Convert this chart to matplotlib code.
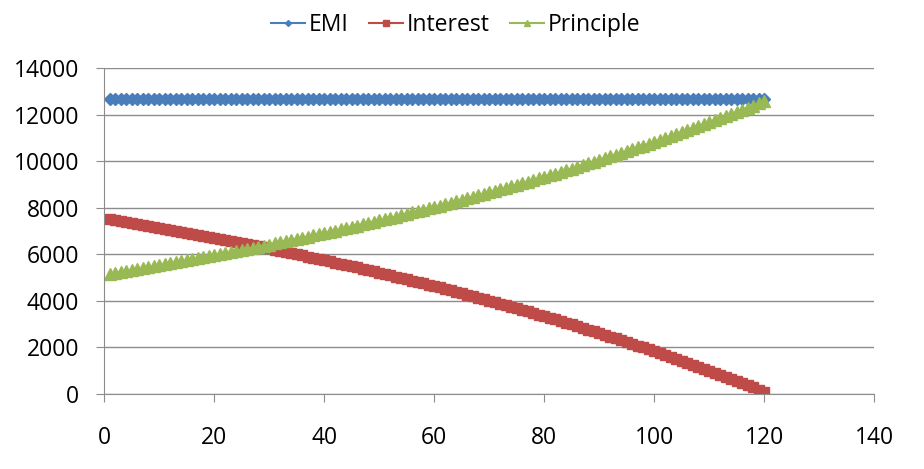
import numpy as np
import matplotlib.pyplot as plt

# monthly EMI schedule values
months = list(range(1, 121))

emi = [12668] * 120

interest = [
    7500, 7461, 7422, 7383, 7343, 7303, 7263, 7222, 7182, 7140,
    7099, 7057, 7015, 6973, 6930, 6887, 6844, 6800, 6756, 6712,
    6667, 6622, 6577, 6531, 6485, 6438, 6392, 6345, 6297, 6249,
    6201, 6153, 6104, 6055, 6005, 5955, 5905, 5854, 5803, 5752,
    5700, 5647, 5595, 5542, 5488, 5434, 5380, 5325, 5270, 5215,
    5159, 5103, 5046, 4989, 4931, 4873, 4815, 4756, 4696, 4637,
    4576, 4516, 4455, 4393, 4331, 4268, 4205, 4142, 4078, 4014,
    3949, 3883, 3817, 3751, 3684, 3617, 3549, 3480, 3411, 3342,
    3272, 3202, 3131, 3059, 2987, 2914, 2841, 2768, 2693, 2619,
    2543, 2467, 2391, 2314, 2236, 2158, 2079, 2000, 1920, 1839,
    1758, 1676, 1593, 1510, 1427, 1342, 1257, 1172, 1086, 999,
    911, 823, 734, 645, 555, 464, 372, 280, 187, 94,
]

principle = [
    5168, 5207, 5246, 5285, 5325, 5365, 5405, 5446, 5486, 5528,
    5569, 5611, 5653, 5695, 5738, 5781, 5824, 5868, 5912, 5956,
    6001, 6046, 6091, 6137, 6183, 6230, 6276, 6323, 6371, 6419,
    6467, 6515, 6564, 6613, 6663, 6713, 6763, 6814, 6865, 6916,
    6968, 7021, 7073, 7126, 7180, 7234, 7288, 7343, 7398, 7453,
    7509, 7565, 7622, 7679, 7737, 7795, 7853, 7912, 7972, 8031,
    8092, 8152, 8213, 8275, 8337, 8400, 8463, 8526, 8590, 8654,
    8719, 8785, 8851, 8917, 8984, 9051, 9119, 9188, 9257, 9326,
    9396, 9466, 9537, 9609, 9681, 9754, 9827, 9900, 9975, 10049,
    10125, 10201, 10277, 10354, 10432, 10510, 10589, 10668, 10748, 10829,
    10910, 10992, 11075, 11158, 11241, 11326, 11411, 11496, 11582, 11669,
    11757, 11845, 11934, 12023, 12113, 12204, 12296, 12388, 12481, 12574,
]

plt.rcParams['font.family'] = ['Open Sans', 'DejaVu Sans']

fig = plt.figure(figsize=(9.24, 4.69), dpi=100)
ax = fig.add_axes([0.1129, 0.1599, 0.833, 0.6951])

ax.plot(months, emi, color='#4A7EBB', marker='D', markersize=6, linewidth=1.5, label='EMI')
ax.plot(months, interest, color='#BE4B48', marker='s', markersize=7.5, linewidth=1.5, label='Interest')
ax.plot(months, principle, color='#98B954', marker='^', markersize=9, linewidth=1.5, label='Principle')

ax.set_xlim(0, 140)
ax.set_ylim(0, 14000)
ax.set_xticks(range(0, 141, 20))
ax.set_yticks(range(0, 14001, 2000))
ax.yaxis.grid(True, color='#8c8c8c', linewidth=1.0)
ax.set_axisbelow(True)

for s in ['top', 'right']:
    ax.spines[s].set_visible(False)
for s in ['left', 'bottom']:
    ax.spines[s].set_color('#8c8c8c')
ax.tick_params(axis='both', colors='#8c8c8c', labelcolor='black', labelsize=16.5,
               length=6, direction='out')
ax.tick_params(axis='x', pad=17)
ax.tick_params(axis='y', pad=12)

ax.legend(loc='center', bbox_to_anchor=(0.493, 0.947), bbox_transform=fig.transFigure,
          ncol=3, frameon=False, fontsize=16.5, handlelength=1.5, handletextpad=0.15,
          columnspacing=0.9, markerscale=0.5, borderpad=0)

fig.savefig('out.png', dpi=100)
